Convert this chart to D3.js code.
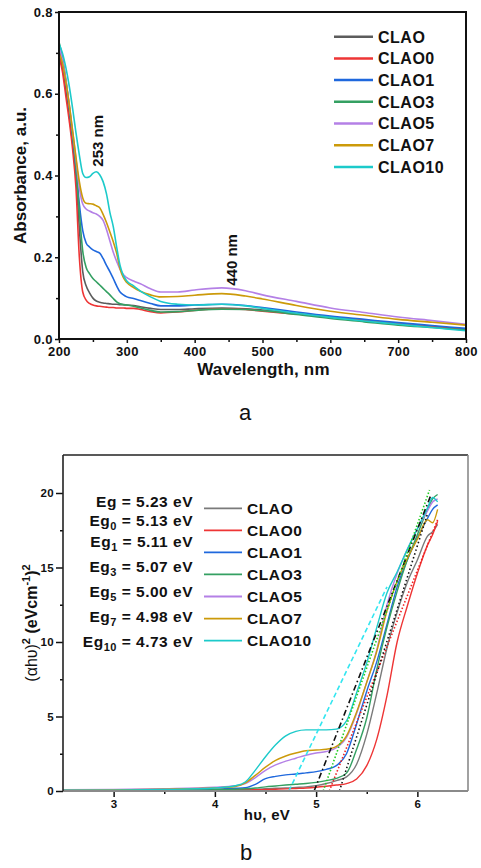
<!DOCTYPE html>
<html><head><meta charset="utf-8">
<script src="https://cdn.jsdelivr.net/npm/d3@7"></script>
<style>
body{margin:0;background:#fff;}
svg{display:block;}
text{font-family:"Liberation Sans",Arial,sans-serif;fill:#111;}
</style>
</head><body>
<svg id="c" width="481" height="868"></svg>
<script>
// ---------------- DATA ----------------
const seriesNames = ["CLAO","CLAO0","CLAO1","CLAO3","CLAO5","CLAO7","CLAO10"];
const seriesColorsA = ["#5c5c5c","#ee3535","#1f68dd","#34a062","#b480e6","#cc9a0a","#1ccaca"];
const seriesColorsB = ["#7a7a7a","#ee3535","#1f68dd","#34a062","#b480e6","#cc9a0a","#1ccaca"];

// (a) absorbance vs wavelength
const wavelength = [200,205,210,215,220,225,230,235,240,245,250,255,260,265,270,275,280,285,290,295,300,310,320,335,350,375,400,440,475,500,550,600,650,700,750,800];
const absCLAO   = [0.700,0.665,0.610,0.550,0.480,0.400,0.270,0.165,0.130,0.113,0.100,0.093,0.090,0.088,0.087,0.086,0.085,0.085,0.084,0.084,0.083,0.082,0.079,0.075,0.072,0.072,0.074,0.076,0.074,0.071,0.062,0.054,0.046,0.038,0.031,0.024];
const absCLAO0  = [0.690,0.655,0.595,0.535,0.465,0.370,0.200,0.115,0.095,0.087,0.083,0.081,0.080,0.079,0.078,0.077,0.077,0.076,0.076,0.076,0.075,0.075,0.072,0.067,0.064,0.066,0.070,0.074,0.072,0.068,0.061,0.054,0.046,0.038,0.030,0.023];
const absCLAO1  = [0.710,0.680,0.630,0.570,0.500,0.420,0.330,0.265,0.235,0.225,0.218,0.214,0.210,0.197,0.180,0.165,0.148,0.130,0.115,0.108,0.103,0.099,0.094,0.087,0.081,0.081,0.083,0.085,0.082,0.077,0.066,0.056,0.048,0.040,0.033,0.026];
const absCLAO3  = [0.727,0.690,0.635,0.570,0.500,0.420,0.310,0.215,0.175,0.160,0.148,0.140,0.132,0.124,0.116,0.108,0.099,0.091,0.086,0.084,0.083,0.080,0.076,0.070,0.066,0.067,0.070,0.073,0.072,0.069,0.060,0.050,0.042,0.034,0.028,0.022];
const absCLAO5  = [0.715,0.685,0.635,0.575,0.510,0.440,0.370,0.330,0.318,0.313,0.309,0.306,0.300,0.290,0.268,0.240,0.212,0.190,0.170,0.157,0.150,0.142,0.135,0.123,0.115,0.115,0.120,0.125,0.118,0.108,0.092,0.076,0.065,0.054,0.045,0.036];
const absCLAO7  = [0.700,0.675,0.630,0.575,0.510,0.445,0.385,0.345,0.332,0.331,0.330,0.326,0.321,0.305,0.285,0.262,0.238,0.210,0.172,0.150,0.138,0.126,0.117,0.108,0.103,0.104,0.107,0.111,0.105,0.098,0.082,0.068,0.058,0.048,0.041,0.034];
const absCLAO10 = [0.722,0.700,0.665,0.620,0.565,0.505,0.450,0.405,0.395,0.397,0.405,0.409,0.402,0.385,0.355,0.310,0.275,0.225,0.180,0.155,0.142,0.130,0.117,0.103,0.092,0.085,0.083,0.085,0.081,0.075,0.063,0.053,0.044,0.036,0.028,0.020];
const absSeries = [absCLAO,absCLAO0,absCLAO1,absCLAO3,absCLAO5,absCLAO7,absCLAO10];
const absXTicks = [200,300,400,500,600,700,800];
const absYTicks = [0,0.2,0.4,0.6,0.8];
const peakLabels = ["253 nm","440 nm"];
const peakPos = [[253,0.409],[440,0.125]];

// (b) Tauc plot
const energy = [2.5,3.0,3.5,4.0,4.2,4.3,4.4,4.5,4.6,4.7,4.8,4.9,5.0,5.1,5.2,5.3,5.4,5.5,5.6,5.7,5.8,5.9,6.0,6.1,6.15,6.2];
const taucCLAO   = [0.02,0.03,0.04,0.07,0.09,0.10,0.12,0.15,0.18,0.20,0.24,0.28,0.36,0.50,0.70,0.95,1.8,3.8,6.6,9.6,12.0,14.0,15.5,17.1,17.4,17.9];
const taucCLAO0  = [0.01,0.02,0.03,0.05,0.06,0.07,0.08,0.10,0.12,0.14,0.17,0.20,0.25,0.32,0.40,0.50,0.80,1.7,3.5,6.4,10.0,12.4,14.6,16.5,17.2,18.1];
const taucCLAO1  = [0.03,0.04,0.06,0.12,0.18,0.22,0.45,0.83,0.98,1.08,1.14,1.22,1.30,1.45,1.70,2.5,4.5,6.7,8.7,11.2,13.7,15.5,17.0,18.3,18.9,19.2];
const taucCLAO3  = [0.02,0.03,0.04,0.08,0.12,0.15,0.20,0.28,0.34,0.40,0.45,0.50,0.58,0.70,0.85,1.2,2.8,4.9,8.2,11.0,13.4,15.5,17.2,18.9,19.6,19.9];
const taucCLAO5  = [0.08,0.10,0.15,0.25,0.35,0.50,0.90,1.39,1.75,2.00,2.20,2.40,2.55,2.65,2.90,3.6,5.2,7.3,9.5,12.5,14.6,16.2,17.6,18.8,19.4,19.6];
const taucCLAO7  = [0.05,0.07,0.12,0.20,0.30,0.55,1.05,1.60,2.05,2.35,2.55,2.70,2.75,2.80,3.00,3.7,5.3,7.3,9.4,12.1,14.1,15.6,16.9,18.2,18.0,18.9];
const taucCLAO10 = [0.05,0.06,0.10,0.20,0.35,0.60,1.40,2.30,3.10,3.70,4.00,4.10,4.10,4.10,4.15,4.7,6.6,8.6,11.0,13.3,14.7,16.2,17.6,19.0,19.7,19.4];
const taucSeries = [taucCLAO,taucCLAO0,taucCLAO1,taucCLAO3,taucCLAO5,taucCLAO7,taucCLAO10];
const taucXTicks = [3,4,5,6];
const taucYTicks = [0,5,10,15,20];
// band-gap labels: subscript and value
const egSub = ["","0","1","3","5","7","10"];
const egValues = ["5.23","5.13","5.11","5.07","5.00","4.98","4.73"];
// extrapolated tangent lines: Eg start, end point
const fitStart = [4.73,4.98,5.07,5.13,5.23];
const fitEndE  = [5.70,6.13,6.12,6.20,6.10];
const fitEndV  = [13.7,19.8,20.2,18.2,18.6];
const fitColors = ["#33e6f0","#111111","#22cc22","#ee2222","#111111"];
const fitDash = ["5,3","6,3,1.5,3","1.5,2","1.5,2","1.5,2.5"];

// ---------------- DRAW ----------------
const svg = d3.select("#c");
const FONT = '"Liberation Sans",Arial,sans-serif';

// ===== panel (a) =====
const A = {l:59,r:466,t:12,b:339};
const xa = d3.scaleLinear().domain([200,800]).range([A.l,A.r]);
const ya = d3.scaleLinear().domain([0,0.8]).range([A.b,A.t]);
const ga = svg.append("g");

ga.append("clipPath").attr("id","clipA").append("rect")
  .attr("x",A.l).attr("y",A.t).attr("width",A.r-A.l).attr("height",A.b-A.t);

const lineA = d3.line().x((d,i)=>xa(wavelength[i])).y(d=>ya(d)).curve(d3.curveMonotoneX);
const gA = ga.append("g").attr("clip-path","url(#clipA)");
absSeries.forEach((s,k)=>{
  gA.append("path").attr("d",lineA(s)).attr("fill","none")
    .attr("stroke",seriesColorsA[k]).attr("stroke-width",1.6);
});

function styleAxis(g,fs){
  g.select(".domain").remove();
  g.selectAll(".tick line").attr("stroke","#111").attr("stroke-width",1.5);
  g.selectAll(".tick text").attr("font-family",FONT).attr("font-weight","bold")
    .attr("font-size",fs).attr("fill","#111").attr("letter-spacing",0.4);
}
const axYa = ga.append("g").attr("transform",`translate(${A.l},0)`)
  .call(d3.axisLeft(ya).tickValues(absYTicks).tickFormat(d3.format(".1f")).tickSize(4).tickPadding(2));
styleAxis(axYa,13);
const axYam = ga.append("g").attr("transform",`translate(${A.l},0)`)
  .call(d3.axisLeft(ya).tickValues([0.1,0.3,0.5,0.7]).tickFormat("").tickSize(3));
styleAxis(axYam,13);
const axXa = ga.append("g").attr("transform",`translate(0,${A.b})`)
  .call(d3.axisBottom(xa).tickValues(absXTicks).tickFormat(d3.format("d")).tickSize(4).tickPadding(4));
styleAxis(axXa,13);
const axXam = ga.append("g").attr("transform",`translate(0,${A.b})`)
  .call(d3.axisBottom(xa).tickValues([250,350,450,550,650,750]).tickFormat("").tickSize(3));
styleAxis(axXam,13);
ga.append("rect").attr("x",A.l).attr("y",A.t).attr("width",A.r-A.l).attr("height",A.b-A.t)
  .attr("fill","none").attr("stroke","#111").attr("stroke-width",2);

ga.append("text").attr("x",(A.l+A.r)/2+1).attr("y",375).attr("text-anchor","middle")
  .attr("font-weight","bold").attr("font-size",17).attr("letter-spacing",0.2).text("Wavelength, nm");
ga.append("text").attr("transform",`translate(26,${(A.t+A.b)/2}) rotate(-90)`).attr("text-anchor","middle")
  .attr("font-weight","bold").attr("font-size",17).text("Absorbance, a.u.");

// peak labels
const peakDx = [8,15];
const peakDy = [-31,-28];
peakLabels.forEach((t,i)=>{
  const px = xa(peakPos[i][0])+peakDx[i], py = ya(peakPos[i][1])+peakDy[i];
  ga.append("text").attr("transform",`translate(${px},${py}) rotate(-90)`)
    .attr("text-anchor","middle").attr("font-weight","bold").attr("font-size",15).text(t);
});

// legend (a)
seriesNames.forEach((n,k)=>{
  const y = 36.7 + k*21.7;
  ga.append("line").attr("x1",334).attr("x2",373).attr("y1",y).attr("y2",y)
    .attr("stroke",seriesColorsA[k]).attr("stroke-width",2.5);
  ga.append("text").attr("x",378).attr("y",y+5.8).attr("font-weight","bold")
    .attr("font-size",16).attr("letter-spacing",0.5).text(n);
});

svg.append("text").attr("x",245).attr("y",420).attr("text-anchor","middle")
  .attr("font-family",'"Liberation Serif","Times New Roman",serif').attr("font-size",22).attr("fill","#111").text("a");

// ===== panel (b) =====
const B = {l:63,r:468,t:455,b:791};
const xb = d3.scaleLinear().domain([2.5,6.5]).range([B.l,B.r]);
const yb = d3.scaleLinear().domain([0,22.55]).range([B.b,B.t]);
const gb = svg.append("g");
gb.append("clipPath").attr("id","clipB").append("rect")
  .attr("x",B.l).attr("y",B.t).attr("width",B.r-B.l).attr("height",B.b-B.t);
const gB = gb.append("g").attr("clip-path","url(#clipB)");

const lineB = d3.line().x((d,i)=>xb(energy[i])).y(d=>yb(d)).curve(d3.curveMonotoneX);
taucSeries.forEach((s,k)=>{
  gB.append("path").attr("d",lineB(s)).attr("fill","none")
    .attr("stroke",seriesColorsB[k]).attr("stroke-width",1.4);
});
fitStart.forEach((e0,i)=>{
  gB.append("line").attr("x1",xb(e0)).attr("y1",yb(0)).attr("x2",xb(fitEndE[i])).attr("y2",yb(fitEndV[i]))
    .attr("stroke",fitColors[i]).attr("stroke-width",1.6).attr("stroke-dasharray",fitDash[i]);
});

const axYb = gb.append("g").attr("transform",`translate(${B.l},0)`)
  .call(d3.axisLeft(yb).tickValues(taucYTicks).tickFormat(d3.format("d")).tickSize(7).tickPadding(2));
styleAxis(axYb,11.5);
const axYbm = gb.append("g").attr("transform",`translate(${B.l},0)`)
  .call(d3.axisLeft(yb).tickValues([2.5,7.5,12.5,17.5]).tickFormat("").tickSize(3));
styleAxis(axYbm,11);
const axXb = gb.append("g").attr("transform",`translate(0,${B.b})`)
  .call(d3.axisBottom(xb).tickValues(taucXTicks).tickFormat(d3.format("d")).tickSize(6).tickPadding(3));
styleAxis(axXb,11.5);
const axXbm = gb.append("g").attr("transform",`translate(0,${B.b})`)
  .call(d3.axisBottom(xb).tickValues([3.5,4.5,5.5]).tickFormat("").tickSize(3));
styleAxis(axXbm,11);
gb.append("line").attr("x1",B.l).attr("x2",B.r).attr("y1",B.t).attr("y2",B.t).attr("stroke","#222").attr("stroke-width",1.6);
gb.append("line").attr("x1",B.r).attr("x2",B.r).attr("y1",B.t).attr("y2",B.b).attr("stroke","#8a8a8a").attr("stroke-width",1.6);
gb.append("line").attr("x1",B.l).attr("x2",B.r).attr("y1",B.b).attr("y2",B.b).attr("stroke","#8a8a8a").attr("stroke-width",2);
gb.append("line").attr("x1",B.l).attr("x2",B.l).attr("y1",B.t).attr("y2",B.b).attr("stroke","#222").attr("stroke-width",1.6);

const xt = gb.append("text").attr("x",267).attr("y",820).attr("text-anchor","middle")
  .attr("font-weight","bold").attr("font-size",15).attr("letter-spacing",0.3);
xt.append("tspan").text("h\u03c5, eV");
const yt = gb.append("text").attr("transform",`translate(37,${(B.t+B.b)/2}) rotate(-90)`)
  .attr("text-anchor","middle").attr("font-size",16);
yt.append("tspan").attr("font-weight","normal").text("(\u03b1h\u03c5)");
yt.append("tspan").attr("font-weight","bold").attr("font-size",11).attr("dy",-7).text("2");
yt.append("tspan").attr("font-weight","bold").attr("dy",7).text(" (eVcm");
yt.append("tspan").attr("font-weight","bold").attr("font-size",11).attr("dy",-7).text("-1");
yt.append("tspan").attr("font-weight","bold").attr("dy",7).text(")");
yt.append("tspan").attr("font-weight","bold").attr("font-size",11).attr("dy",-7).text("2");

const egBase = [506.7,526,547.3,571.7,596.7,621.7,646.7];
egValues.forEach((v,i)=>{
  const t = gb.append("text").attr("x",193).attr("y",egBase[i]).attr("text-anchor","end")
    .attr("font-weight","bold").attr("font-size",15.5).attr("letter-spacing",0.5);
  t.append("tspan").text("Eg");
  if(egSub[i]){
    t.append("tspan").attr("font-size",11).attr("dy",4).text(egSub[i]);
    t.append("tspan").attr("dy",-4).text(" = "+v+" eV");
  } else {
    t.append("tspan").text(" = "+v+" eV");
  }
});
seriesNames.forEach((n,k)=>{
  const y = 508.3 + k*22.05;
  gb.append("line").attr("x1",204).attr("x2",242).attr("y1",y).attr("y2",y)
    .attr("stroke",seriesColorsB[k]).attr("stroke-width",1.8);
  gb.append("text").attr("x",247).attr("y",y+5.7).attr("font-weight","bold")
    .attr("font-size",15.5).attr("letter-spacing",0.6).text(n);
});

svg.append("text").attr("x",246).attr("y",860).attr("text-anchor","middle")
  .attr("font-family",'"Liberation Serif","Times New Roman",serif').attr("font-size",22).attr("fill","#111").text("b");
</script>
</body></html>
